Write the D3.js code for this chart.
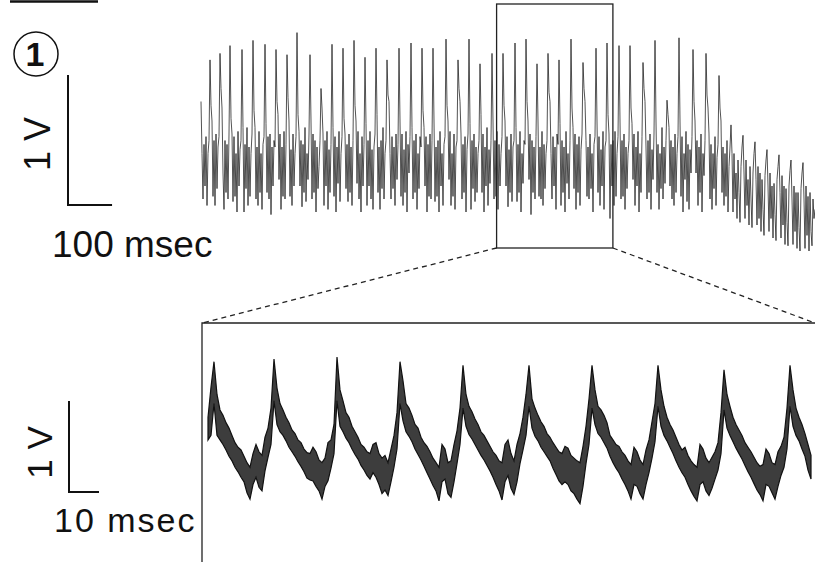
<!DOCTYPE html>
<html>
<head>
    <meta charset="utf-8"/>
    <title>Spike train recording, with a zoomed window</title>
    <script src="https://d3js.org/d3.v7.min.js"></script>
</head>
<style>
    body {
        margin: 0;
        background: #fff;
    }
    #chart {
        width: 815px;
        height: 562px;
    }
    .label {
        font-family: "Liberation Sans", Arial, Helvetica, sans-serif;
        fill: #111;
    }
    .bar {
        fill: none;
        stroke: #111;
        stroke-width: 2px;
    }
    .frame {
        fill: none;
        stroke: #222;
        stroke-width: 1.3px;
    }
    .dash {
        stroke: #222;
        stroke-width: 1.3px;
        stroke-dasharray: 5 4;
    }
    .trace-top {
        fill: none;
        stroke: #1a1a1a;
        stroke-width: 0.75px;
        stroke-linejoin: miter;
    }
    .trace-band {
        fill: #3d3d3d;
        stroke: #111;
        stroke-width: 1.2px;
        stroke-linejoin: miter;
    }
</style>
<body>
    <div id="chart"></div>
</body>
<script type="text/javascript">
    // long recording, volts, one sample every topStep ms (one row per spike)
    var topStep = 2.27;
    var topTrace = [
        0.45, 0.05, -0.30, 0.12, -0.20, 0.18, -0.35, 0.05, 0.15,
        0.77, 0.42, 0.30, -0.28, 0.15, -0.35, 0.20, -0.22, 0.10, 0.18,
        0.82, 0.55, 0.40, -0.10, -0.38, 0.15, -0.25, 0.12, -0.30, 0.20,
        0.88, 0.32, 0.20, -0.32, 0.18, -0.28, 0.05, -0.40, 0.22, -0.20, 0.08, 0.15,
        0.85, 0.25, -0.40, 0.12, -0.22, 0.25, -0.35, 0.10, -0.28, 0.05, 0.20,
        0.92, 0.38, 0.25, -0.30, 0.10, -0.35, 0.22, -0.25, 0.05, -0.38, 0.12, 0.18,
        0.89, 0.28, -0.25, 0.18, -0.30, 0.20, -0.42, 0.10, -0.20, 0.15, 0.10,
        0.85, 0.45, 0.35, -0.15, 0.20, -0.38, 0.10, -0.28, 0.22, -0.30, 0.12,
        0.81, 0.48, 0.30, -0.28, 0.08, -0.35, 0.20, -0.20, 0.05, 0.18,
        0.98, 0.35, 0.22, -0.20, 0.15, -0.36, 0.12, -0.25, 0.25, -0.32, 0.05, -0.15, 0.20,
        0.81, 0.30, -0.30, 0.20, -0.25, 0.15, -0.40, 0.10, -0.22, -0.05, 0.15,
        0.55, 0.40, 0.20, -0.35, 0.15, -0.20, 0.22, -0.38, 0.08, -0.25, 0.12,
        0.89, 0.25, -0.28, 0.18, -0.40, 0.10, -0.18, 0.22, -0.32, 0.05, 0.18,
        0.86, 0.32, 0.20, -0.22, 0.12, -0.32, 0.20, -0.25, 0.10, -0.35, 0.15,
        0.92, 0.42, 0.30, -0.18, 0.22, -0.30, 0.05, -0.40, 0.18, -0.20, 0.12,
        0.79, 0.28, -0.35, 0.15, -0.20, 0.22, -0.30, 0.08, -0.38, 0.10, 0.20,
        0.86, 0.35, -0.25, 0.10, -0.38, 0.15, -0.22, 0.25, -0.30, 0.05, 0.15,
        0.77, 0.50, 0.45, 0.05, -0.30, 0.18, -0.22, 0.10, -0.35, 0.20, -0.15, 0.12,
        0.86, 0.30, -0.28, 0.20, -0.35, 0.08, -0.25, 0.22, -0.40, 0.12, -0.10, 0.18,
        0.90, 0.25, -0.30, 0.15, -0.25, 0.20, -0.38, 0.05, -0.22, 0.18, 0.10,
        0.86, 0.38, 0.25, -0.20, 0.18, -0.40, 0.12, -0.28, 0.20, -0.30, 0.15,
        0.86, 0.30, -0.32, 0.10, -0.28, 0.15, -0.40, 0.22, -0.20, 0.05, -0.35, 0.12, 0.18,
        0.93, 0.42, 0.30, -0.15, 0.22, -0.35, 0.05, -0.28, 0.20, -0.38, 0.10, 0.15,
        0.77, 0.55, 0.45, 0.20, -0.30, 0.12, -0.25, 0.18, -0.40, 0.08, 0.20,
        0.93, 0.28, -0.38, 0.15, -0.22, 0.20, -0.32, 0.10, -0.25, 0.05, 0.15,
        0.74, 0.35, -0.25, 0.20, -0.40, 0.10, -0.20, 0.25, -0.35, 0.08, -0.18, 0.15,
        0.82, 0.30, -0.30, 0.15, -0.28, 0.22, -0.38, 0.12, -0.20, 0.05, 0.18,
        0.82, 0.42, 0.30, -0.20, 0.18, -0.36, 0.08, -0.25, 0.20, -0.32, 0.10, 0.15,
        0.90, 0.25, -0.32, 0.12, -0.25, 0.22, -0.40, 0.05, -0.18, 0.15, 0.12,
        0.93, 0.45, 0.30, -0.15, 0.20, -0.42, 0.15, -0.25, 0.10, -0.30, 0.18,
        0.74, 0.30, -0.28, 0.10, -0.30, 0.22, -0.35, 0.12, -0.22, 0.05, 0.15,
        0.82, 0.52, 0.45, 0.05, -0.30, 0.18, -0.20, 0.10, -0.38, 0.20, 0.12,
        0.77, 0.28, -0.35, 0.15, -0.25, 0.10, -0.40, 0.22, -0.18, 0.05, -0.30, 0.15,
        0.93, 0.40, 0.25, -0.22, 0.20, -0.38, 0.12, -0.25, 0.18, -0.35, 0.08, 0.20,
        0.75, 0.55, 0.45, 0.15, -0.28, 0.10, -0.30, 0.20, -0.22, 0.05, -0.40, 0.12, 0.18,
        0.86, 0.30, -0.25, 0.18, -0.35, 0.08, -0.20, 0.22, -0.38, 0.10, 0.15,
        0.90, 0.35, 0.20, -0.45, 0.12, -0.20, 0.15, -0.35, 0.22, -0.28, 0.05, 0.18,
        0.88, 0.30, -0.30, 0.15, -0.28, 0.20, -0.38, 0.10, -0.22, 0.05, 0.15,
        0.88, 0.40, 0.28, -0.15, 0.20, -0.35, 0.10, -0.20, 0.22, -0.40, 0.05, -0.25, 0.18,
        0.75, 0.55, 0.45, 0.10, -0.30, 0.15, -0.25, 0.20, -0.38, 0.08, -0.15, 0.20,
        0.92, 0.30, -0.25, 0.12, -0.38, 0.05, -0.22, 0.25, -0.30, 0.10, -0.18, 0.15,
        0.46, 0.35, 0.25, -0.20, 0.15, -0.30, 0.10, -0.35, 0.20, -0.25, 0.05, 0.18,
        0.94, 0.30, -0.28, 0.18, -0.40, 0.05, -0.15, 0.22, -0.32, 0.12, -0.38, 0.08, -0.10, 0.18,
        0.85, 0.45, 0.30, -0.10, 0.15, -0.35, 0.10, -0.25, 0.20, -0.40, 0.05, -0.12, 0.15,
        0.82, 0.50, 0.40, 0.20, -0.30, 0.12, -0.38, 0.05, -0.22, 0.18, -0.35, 0.02, 0.12,
        0.65, 0.40, 0.30, -0.25, 0.10, -0.35, 0.05, -0.28, 0.15, -0.40, -0.05, 0.10,
        0.27, 0.05, -0.40, 0.05, -0.30, -0.10, -0.45, 0.00, -0.25, -0.48, -0.05, 0.10,
        0.19, -0.10, -0.45, 0.00, -0.35, -0.15, -0.50, -0.05, -0.30, -0.52, -0.10, 0.05,
        0.14, -0.15, -0.50, -0.05, -0.45, -0.10, -0.55, -0.15, -0.38, -0.58, -0.12, 0.00,
        0.08, -0.20, -0.55, -0.10, -0.45, -0.20, -0.60, -0.18, -0.42, -0.62, -0.15, -0.05,
        0.04, -0.25, -0.60, -0.12, -0.50, -0.20, -0.65, -0.22, -0.48, -0.66, -0.20, -0.08,
        0.00, -0.30, -0.65, -0.20, -0.55, -0.25, -0.68, -0.25, -0.52, -0.70, -0.22, -0.10,
        -0.02, -0.30, -0.68, -0.20, -0.58, -0.28, -0.70, -0.25, -0.55, -0.66, -0.30, -0.45, -0.38
    ];

    // part of the long recording that is blown up below (ms)
    var zoomWindow = [671, 935];

    // zoomed recording: upper and lower edge of the noisy band, volts, 1 sample per ms
    var bottomStep = 1;
    var bottomHi = [
        0.80, 1.13, 1.41, 1.05, 0.88, 0.82, 0.74, 0.68, 0.60, 0.52, 0.47, 0.44, 0.37, 0.30, 0.25, 0.40, 0.50, 0.42, 0.38, 0.58, 0.68, 0.90,
        1.44, 1.12, 0.95, 0.88, 0.80, 0.74, 0.66, 0.62, 0.55, 0.52, 0.45, 0.41, 0.40, 0.47, 0.42, 0.33, 0.30, 0.35, 0.52, 0.55, 0.72,
        1.46, 1.10, 0.98, 0.85, 0.80, 0.70, 0.64, 0.58, 0.50, 0.47, 0.42, 0.40, 0.50, 0.52, 0.40, 0.35, 0.38, 0.30, 0.45, 0.60, 0.85,
        1.41, 1.20, 0.95, 0.90, 0.82, 0.72, 0.68, 0.58, 0.52, 0.48, 0.42, 0.35, 0.30, 0.25, 0.50, 0.45, 0.30, 0.32, 0.50, 0.65, 0.90,
        1.37, 1.05, 0.92, 0.86, 0.78, 0.72, 0.64, 0.60, 0.54, 0.48, 0.42, 0.38, 0.32, 0.30, 0.50, 0.55, 0.40, 0.32, 0.50, 0.62, 0.80, 1.05,
        1.37, 1.00, 0.90, 0.82, 0.75, 0.70, 0.62, 0.58, 0.52, 0.47, 0.42, 0.40, 0.48, 0.46, 0.38, 0.35, 0.32, 0.30, 0.48, 0.70, 1.00,
        1.37, 1.10, 0.92, 0.88, 0.82, 0.74, 0.60, 0.55, 0.50, 0.48, 0.42, 0.38, 0.32, 0.28, 0.47, 0.42, 0.33, 0.28, 0.44, 0.55, 0.75, 0.95,
        1.37, 1.10, 0.92, 0.80, 0.72, 0.66, 0.58, 0.50, 0.44, 0.47, 0.38, 0.32, 0.28, 0.25, 0.50, 0.45, 0.35, 0.30, 0.36, 0.42, 0.52, 0.85,
        1.32, 1.05, 0.92, 0.80, 0.72, 0.66, 0.60, 0.52, 0.47, 0.42, 0.36, 0.30, 0.26, 0.28, 0.45, 0.40, 0.30, 0.28, 0.42, 0.48, 0.58, 0.90,
        1.37, 1.10, 0.90, 0.80, 0.72, 0.62, 0.50, 0.38
    ];
    var bottomLo = [
        0.55, 0.60, 0.95, 0.60, 0.55, 0.50, 0.44, 0.37, 0.32, 0.25, 0.20, 0.14, 0.09, -0.03, -0.10, 0.06, 0.14, 0.03, -0.01, 0.21, 0.36, 0.50,
        0.98, 0.72, 0.64, 0.60, 0.54, 0.47, 0.42, 0.37, 0.31, 0.26, 0.20, 0.13, 0.11, 0.10, 0.04, -0.01, -0.10, 0.04, 0.10, 0.24, 0.40,
        0.98, 0.70, 0.64, 0.57, 0.52, 0.45, 0.39, 0.34, 0.27, 0.22, 0.16, 0.12, 0.19, 0.14, 0.06, -0.04, 0.00, -0.06, 0.09, 0.25, 0.45,
        0.95, 0.76, 0.64, 0.59, 0.53, 0.45, 0.39, 0.33, 0.26, 0.19, 0.12, 0.05, -0.01, -0.12, 0.09, 0.12, -0.04, -0.08, 0.09, 0.29, 0.50,
        0.90, 0.70, 0.61, 0.56, 0.50, 0.44, 0.38, 0.33, 0.27, 0.21, 0.14, 0.06, -0.01, -0.11, 0.09, 0.16, 0.02, -0.05, 0.09, 0.29, 0.44, 0.60,
        0.92, 0.68, 0.59, 0.54, 0.47, 0.42, 0.37, 0.32, 0.24, 0.17, 0.10, 0.06, 0.09, 0.06, -0.01, -0.04, -0.10, -0.15, 0.04, 0.29, 0.50,
        0.90, 0.72, 0.62, 0.58, 0.52, 0.46, 0.37, 0.30, 0.24, 0.19, 0.12, 0.06, -0.01, -0.10, 0.06, 0.04, -0.04, -0.10, 0.06, 0.19, 0.35, 0.53,
        0.92, 0.70, 0.60, 0.54, 0.47, 0.40, 0.32, 0.25, 0.19, 0.14, 0.06, -0.01, -0.07, -0.12, 0.06, 0.09, -0.01, -0.06, 0.02, 0.12, 0.22, 0.40,
        0.88, 0.68, 0.60, 0.53, 0.46, 0.40, 0.34, 0.27, 0.20, 0.14, 0.07, 0.00, -0.05, -0.12, 0.06, 0.04, -0.03, -0.10, 0.04, 0.16, 0.25, 0.45,
        0.92, 0.70, 0.60, 0.54, 0.45, 0.37, 0.22, 0.12
    ];

    // scale bars
    var topBarLabels = ["1 V", "100 msec"];
    var bottomBarLabels = ["1 V", "10 msec"];
    var topBar = {volts: 1, ms: 100};
    var bottomBar = {volts: 1, ms: 10};
    var panelNumber = "1";

    var width = 815, height = 562, svg, xTop, yTop, xBot, yBot;

    function begin(){
        svg = d3.select("#chart")
                .append("svg")
                .attr("width", width)
                .attr("height", height);
        svg.append("rect")
            .attr("width", width)
            .attr("height", height)
            .attr("fill", "#fff");

        xTop = d3.scaleLinear()
                 .domain([0, (topTrace.length - 1) * topStep])
                 .range([201, 815]);
        yTop = d3.scaleLinear()
                 .domain([-1, 1])
                 .range([290, 30]);
        xBot = d3.scaleLinear()
                 .domain([0, (bottomHi.length - 1) * bottomStep])
                 .range([208, 811]);
        yBot = d3.scaleLinear()
                 .domain([0, 1])
                 .range([490, 399]);

        drawHeader();
        drawTop();
        drawZoomLinks();
        drawBottom();
    }

    function drawHeader(){
        svg.append("line")
            .attr("x1", 10).attr("x2", 98)
            .attr("y1", 1.5).attr("y2", 1.5)
            .attr("stroke", "#111")
            .attr("stroke-width", 2.5);
        svg.append("circle")
            .attr("cx", 36).attr("cy", 54).attr("r", 22)
            .attr("fill", "none")
            .attr("stroke", "#111")
            .attr("stroke-width", 1.5);
        svg.append("text")
            .attr("class", "label")
            .attr("x", 35).attr("y", 66)
            .attr("text-anchor", "middle")
            .style("font-size", "34px")
            .style("font-weight", "bold")
            .text(panelNumber);
    }

    function drawTop(){
        var line = d3.line()
                     .x(function(d, i){ return xTop(i * topStep); })
                     .y(function(d){ return yTop(d); });
        svg.append("path")
            .datum(topTrace)
            .attr("class", "trace-top")
            .attr("d", line);

        // scale bar
        var bx = 68, by = 205;
        var barH = yTop(0) - yTop(topBar.volts);
        var barW = xTop(topBar.ms) - xTop(0);
        svg.append("path")
            .attr("class", "bar")
            .attr("d", "M" + bx + "," + (by - barH) + "V" + by + "H" + (bx + barW));
        svg.append("text")
            .attr("class", "label")
            .attr("transform", "translate(50," + (by - barH / 2 + 4) + ") rotate(-90)")
            .attr("text-anchor", "middle")
            .style("font-size", "36px")
            .text(topBarLabels[0]);
        svg.append("text")
            .attr("class", "label")
            .attr("x", 52).attr("y", 257)
            .style("font-size", "37px")
            .text(topBarLabels[1]);

        // window that is blown up
        svg.append("rect")
            .attr("class", "frame")
            .attr("x", xTop(zoomWindow[0]))
            .attr("y", 4)
            .attr("width", xTop(zoomWindow[1]) - xTop(zoomWindow[0]))
            .attr("height", 244);
    }

    function drawZoomLinks(){
        svg.append("line")
            .attr("class", "dash")
            .attr("x1", xTop(zoomWindow[0])).attr("y1", 248)
            .attr("x2", 202).attr("y2", 323);
        svg.append("line")
            .attr("class", "dash")
            .attr("x1", xTop(zoomWindow[1])).attr("y1", 248)
            .attr("x2", 815).attr("y2", 323);
    }

    function drawBottom(){
        svg.append("path")
            .attr("class", "frame")
            .attr("d", "M815,323H202V562");

        var area = d3.area()
                     .x(function(d, i){ return xBot(i * bottomStep); })
                     .y0(function(d, i){ return yBot(bottomLo[i]); })
                     .y1(function(d){ return yBot(d); });
        svg.append("path")
            .datum(bottomHi)
            .attr("class", "trace-band")
            .attr("d", area);

        // scale bar
        var bx = 69, by = 492;
        var barH = yBot(0) - yBot(bottomBar.volts);
        var barW = xBot(bottomBar.ms) - xBot(0);
        svg.append("path")
            .attr("class", "bar")
            .attr("d", "M" + bx + "," + (by - barH) + "V" + by + "H" + (bx + barW));
        svg.append("text")
            .attr("class", "label")
            .attr("transform", "translate(52," + (by - barH / 2 + 6) + ") rotate(-90)")
            .attr("text-anchor", "middle")
            .style("font-size", "35px")
            .text(bottomBarLabels[0]);
        svg.append("text")
            .attr("class", "label")
            .attr("x", 54).attr("y", 532)
            .style("font-size", "34px")
            .style("letter-spacing", "2px")
            .text(bottomBarLabels[1]);
    }

    begin();
</script>
</html>
